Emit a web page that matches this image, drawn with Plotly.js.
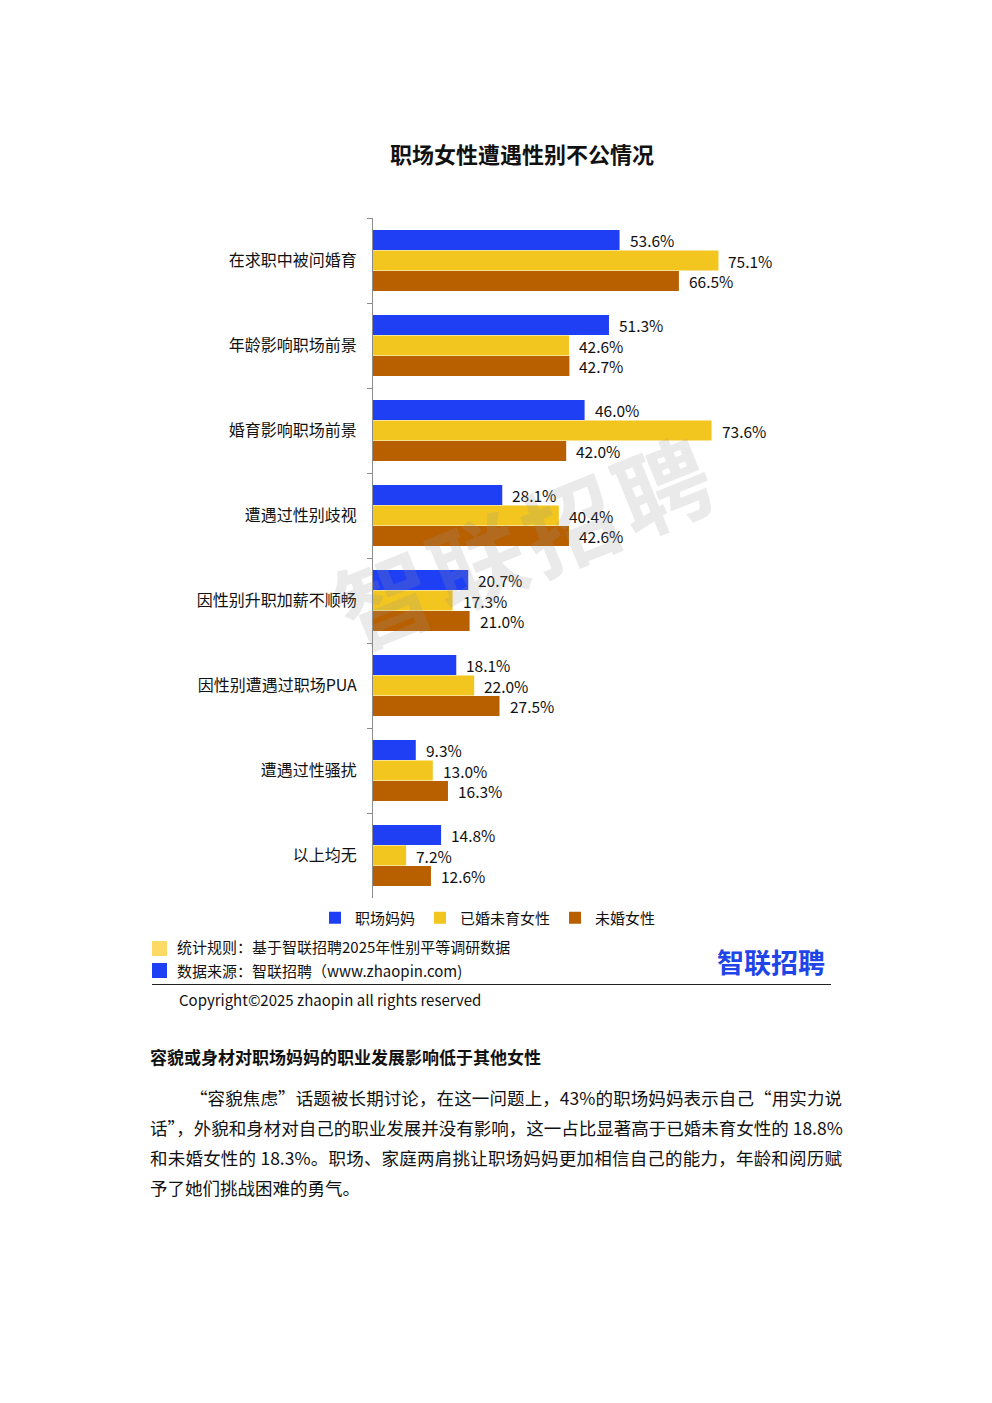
<!DOCTYPE html>
<html><head><meta charset="utf-8">
<script src="https://cdn.plot.ly/plotly-3.0.1.min.js"></script>
<style>
body{margin:0;background:#fff;font-family:"Noto Sans CJK SC","Noto Sans",sans-serif;}
#page{position:relative;width:992px;height:1403px;overflow:hidden;}
#chart{position:absolute;left:0;top:0;width:992px;height:1403px;}
.abs{position:absolute;white-space:nowrap;color:#111;}
.sq{position:absolute;width:15px;height:15px;}
.pl{position:absolute;left:150px;width:692px;font-size:17.5px;color:#111;text-align:justify;text-align-last:justify;white-space:nowrap;}
</style></head>
<body><div id="page"><div id="chart"></div>
<div class="abs" style="left:325px;top:470px;font-size:94px;font-weight:bold;color:rgba(150,150,150,0.2);transform:rotate(-22deg);transform-origin:center;letter-spacing:6px;pointer-events:none;">智联招聘</div>
<div class="sq" style="left:152px;top:941px;background:#FFD966;"></div>
<div class="abs" style="left:177px;top:936px;font-size:15px;">统计规则：基于智联招聘2025年性别平等调研数据</div>
<div class="sq" style="left:152px;top:963px;background:#1F3FF5;"></div>
<div class="abs" style="left:177px;top:960px;font-size:15px;">数据来源：智联招聘（www.zhaopin.com)</div>
<div class="abs" style="left:717px;top:942px;font-size:27px;font-weight:bold;color:#1F45E8;">智联招聘</div>
<div style="position:absolute;left:152px;top:984px;width:679px;height:1px;background:#222;"></div>
<div class="abs" style="left:179px;top:989px;font-size:15px;">Copyright©2025 zhaopin all rights reserved</div>
<div class="abs" style="left:150px;top:1044px;font-size:17px;font-weight:bold;">容貌或身材对职场妈妈的职业发展影响低于其他女性</div>
<div class="pl" style="top:1085px;padding-left:40px;width:652px;">“容貌焦虑”话题被长期讨论，在这一问题上，43%的职场妈妈表示自己“用实力说</div>
<div class="pl" style="top:1115px;">话”，外貌和身材对自己的职业发展并没有影响，这一占比显著高于已婚未育女性的 18.8%</div>
<div class="pl" style="top:1145px;">和未婚女性的 18.3%。职场、家庭两肩挑让职场妈妈更加相信自己的能力，年龄和阅历赋</div>
<div class="pl" style="top:1175px;text-align-last:left;">予了她们挑战困难的勇气。</div>
</div>
<script>
const categories = ["在求职中被问婚育","年龄影响职场前景","婚育影响职场前景","遭遇过性别歧视","因性别升职加薪不顺畅","因性别遭遇过职场PUA","遭遇过性骚扰","以上均无"];
const seriesNames = ["职场妈妈","已婚未育女性","未婚女性"];
const moms = [53.6,51.3,46.0,28.1,20.7,18.1,9.3,14.8];
const marriedNoKids = [75.1,42.6,73.6,40.4,17.3,22.0,13.0,7.2];
const unmarried = [66.5,42.7,42.0,42.6,21.0,27.5,16.3,12.6];
const colors = ["#1F3FF5","#F2C61F","#B85F00"];
const series = [moms, marriedNoKids, unmarried];
const font = '"Noto Sans CJK SC","Noto Sans",sans-serif';

const traces = series.map((vals,i)=>({
  type:'bar', orientation:'h', name:seriesNames[i], x:vals, y:categories,
  marker:{color:colors[i]}, hoverinfo:'skip'
}));
const shifts = [20.4,0,-20.4];
const annotations = [];
series.forEach((vals,i)=>{
  vals.forEach((v,j)=>{
    annotations.push({x:v,y:categories[j],xref:'x',yref:'y',text:v.toFixed(1)+'%',
      showarrow:false,xanchor:'left',yanchor:'middle',xshift:8,yshift:shifts[i],
      font:{family:font,size:15.5,color:'#111'}});
  });
});
const layout = {
  width:992,height:1403,
  margin:{l:373,r:159,t:218,b:505},
  paper_bgcolor:'rgba(0,0,0,0)',plot_bgcolor:'rgba(0,0,0,0)',
  barmode:'group',bargap:0.28,bargroupgap:0.02,
  title:{text:'<b>职场女性遭遇性别不公情况</b>',x:522/992,xref:'container',xanchor:'center',
    y:1-155/1403,yref:'container',yanchor:'middle',font:{family:font,size:22,color:'#111'}},
  xaxis:{range:[0,100],visible:false,fixedrange:true},
  yaxis:{autorange:'reversed',showline:true,linecolor:'#8c8c8c',linewidth:1,
    ticks:'outside',tickson:'boundaries',ticklen:5,tickcolor:'#8c8c8c',
    tickfont:{family:font,size:16,color:'#111'},ticklabelstandoff:12,showgrid:false,zeroline:false},
  showlegend:true,
  legend:{orientation:'h',xref:'container',yref:'container',x:488/992,xanchor:'center',
    y:1-918/1403,yanchor:'middle',font:{family:font,size:15,color:'#111'},
    traceorder:'normal',itemwidth:30,bgcolor:'rgba(0,0,0,0)'},
  annotations:annotations
};
Plotly.newPlot('chart',traces,layout,{displayModeBar:false,staticPlot:true});
</script></body></html>
